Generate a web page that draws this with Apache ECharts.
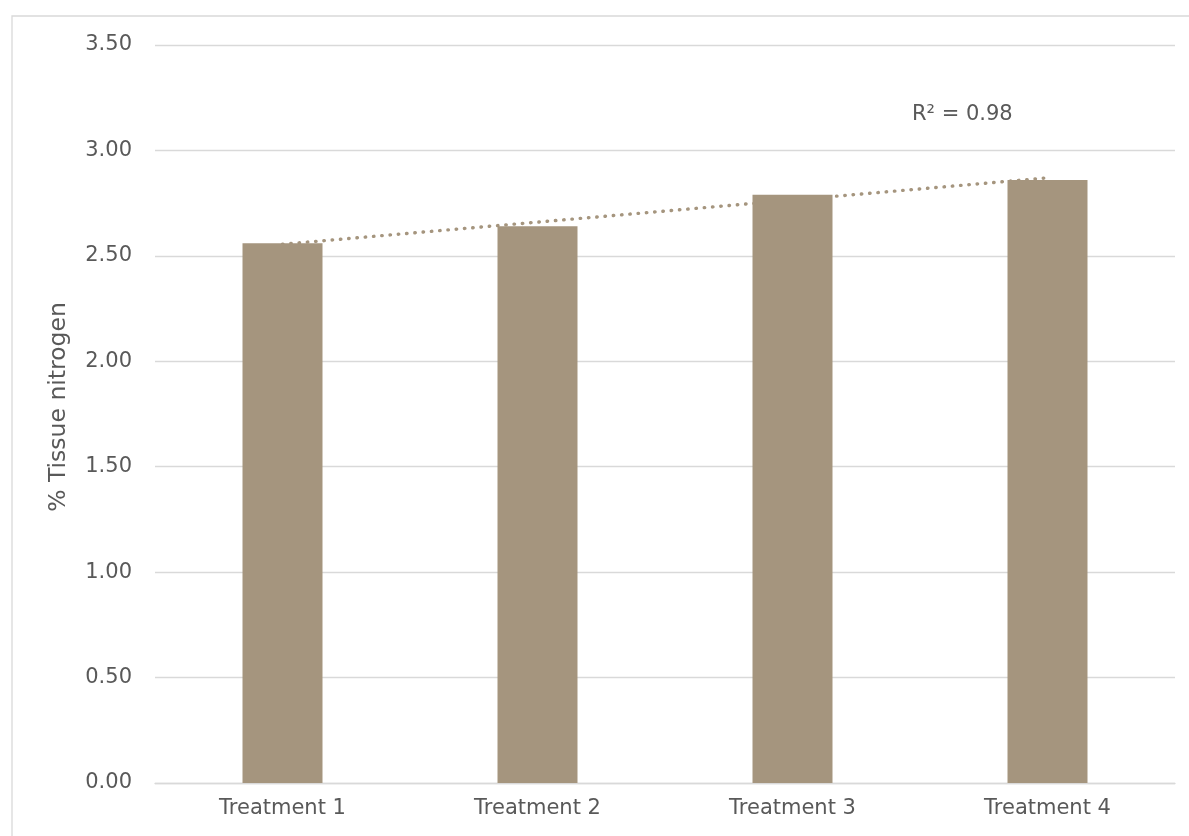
<!DOCTYPE html>
<html>
<head>
<meta charset="utf-8">
<style>
  html, body { margin: 0; padding: 0; background: #ffffff; }
  #chart { width: 1189px; height: 836px; }
</style>
<script src="https://cdn.jsdelivr.net/npm/echarts@6/dist/echarts.min.js"></script>
</head>
<body>
<div id="chart"></div>
<script>
// Tissue nitrogen by treatment
const categories = ['Treatment 1', 'Treatment 2', 'Treatment 3', 'Treatment 4'];
const nitrogen = [2.56, 2.64, 2.79, 2.86];
// linear trendline: value at the first and last treatment (gaps bridged)
const trend = [2.555, null, null, 2.87];
const rSquaredText = 'R² = 0.98';
const yTickMin = 0, yTickMax = 3.5, yTickStep = 0.5;

const textColor = '#595959';
const gridColor = '#d9d9d9';
const barColor = '#a5957e';
const fontFamily = '"DejaVu Sans", Verdana, sans-serif';

const chart = echarts.init(document.getElementById('chart'), null, { renderer: 'canvas' });

chart.setOption({
  animation: false,
  backgroundColor: '#ffffff',
  textStyle: { fontFamily: fontFamily, color: textColor },
  grid: { left: 155, right: 14, top: 45, bottom: 53, containLabel: false },
  graphic: [
    {
      type: 'rect',
      silent: true,
      z: -10,
      shape: { x: 12, y: 16, width: 1220, height: 900 },
      style: { fill: 'none', stroke: gridColor, lineWidth: 1.3 }
    },
    {
      type: 'text',
      silent: true,
      left: 912,
      top: 104,
      style: {
        text: rSquaredText,
        fill: textColor,
        font: '21px ' + fontFamily
      }
    }
  ],
  xAxis: {
    type: 'category',
    data: categories,
    axisLine: { show: true, lineStyle: { color: gridColor, width: 1.3 } },
    axisTick: { show: false },
    axisLabel: { color: textColor, fontSize: 21, margin: 15, fontFamily: fontFamily },
    splitLine: { show: false }
  },
  yAxis: {
    type: 'value',
    min: yTickMin,
    max: yTickMax,
    interval: yTickStep,
    name: '% Tissue nitrogen',
    nameLocation: 'middle',
    nameGap: 84,
    nameRotate: 90,
    nameTextStyle: { color: textColor, fontSize: 23.5, fontFamily: fontFamily, padding: [0, 0, 0, 14] },
    axisLine: { show: false },
    axisTick: { show: false },
    axisLabel: {
      color: textColor,
      fontSize: 21,
      margin: 23,
      fontFamily: fontFamily,
      formatter: v => v.toFixed(2)
    },
    splitLine: { show: true, lineStyle: { color: gridColor, width: 1.3 } }
  },
  series: [
    {
      name: 'Trend',
      type: 'line',
      data: trend,
      connectNulls: true,
      symbol: 'none',
      z: 1,
      lineStyle: { color: barColor, width: 3.4, type: [0.5, 7.8], cap: 'round' }
    },
    {
      name: '% Tissue nitrogen',
      type: 'bar',
      data: nitrogen,
      barWidth: 80,
      z: 2,
      itemStyle: { color: barColor }
    }
  ]
});
</script>
</body>
</html>
